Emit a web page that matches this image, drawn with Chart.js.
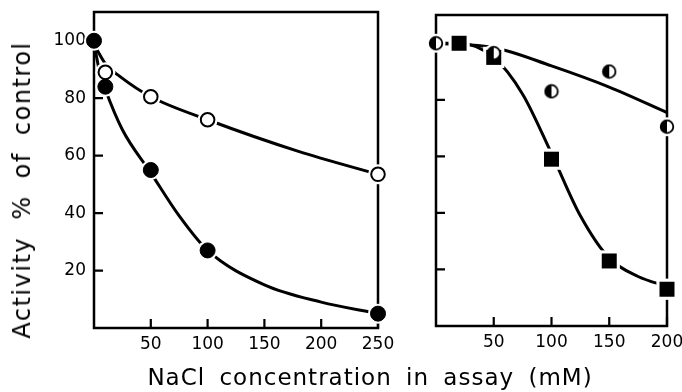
<!DOCTYPE html>
<html>
<head>
<meta charset="utf-8">
<script src="https://cdn.jsdelivr.net/npm/chart.js@4.4.1/dist/chart.umd.min.js"></script>
<style>
  body { margin: 0; background: #fff; }
  #wrap { position: relative; width: 682px; height: 392px; overflow: hidden; }
  #left { position: absolute; left: 0; top: 0; }
  #right { position: absolute; left: 390px; top: 0; }
  .ttl { position: absolute; font-family: 'DejaVu Sans', sans-serif; color: #000; white-space: pre; }
  #ytitle { left: 22px; top: 190px; font-size: 24px; letter-spacing: 1.5px; word-spacing: 8px;
            transform: translate(-50%, -50%) rotate(-90deg); }
  #xtitle { left: 370px; top: 377px; font-size: 23px; letter-spacing: 1px; word-spacing: 6px;
            transform: translate(-50%, -50%); }
</style>
</head>
<body>
<div id="wrap">
  <canvas id="left" width="410" height="392"></canvas>
  <canvas id="right" width="292" height="392"></canvas>
  <div class="ttl" id="ytitle">Activity % of control</div>
  <div class="ttl" id="xtitle">NaCl concentration in assay (mM)</div>
</div>
<script>
// ---- data ----
// left panel
var leftX = [0, 10, 50, 100, 250];
var closedY = [100, 84, 55, 27, 5];
var openX = [10, 50, 100, 250];
var openY = [89, 80.5, 72.5, 53.5];
// fitted curves (left)
var closedCurveX = [1, 5, 10, 25, 50, 75, 100, 150, 200, 250];
var closedCurveY = [97, 89, 83, 69, 54, 39, 27, 15, 9, 5];
var openCurveX = [1, 10, 23, 50, 100, 180, 250];
var openCurveY = [98, 92, 87.5, 80.5, 72.5, 61.5, 53.5];

// right panel
var halfX = [0, 50, 100, 150, 200];
var halfY = [100, 96.5, 83, 90, 70.5];
var squareX = [20, 50, 100, 150, 200];
var squareY = [100, 95, 59, 23, 13];
// fitted curves (right)
var halfCurveX = [0, 50, 100, 150, 200];
var halfCurveY = [100, 98.5, 92, 84.5, 75.5];
var squareCurveX = [0, 20, 50, 75, 100, 125, 150, 175, 200];
var squareCurveY = [100, 100, 95, 82, 61, 39, 24, 17.5, 14];

// axis ticks
var leftXTicks = [50, 100, 150, 200, 250];
var rightXTicks = [50, 100, 150, 200];
var yTicks = [20, 40, 60, 80, 100];

function pts(xs, ys) {
  return xs.map(function(x, i) { return { x: x, y: ys[i] }; });
}

// half-filled circle marker (left half black)
var half = document.createElement('canvas');
half.width = 16; half.height = 16;
(function() {
  var c = half.getContext('2d');
  c.fillStyle = '#fff';
  c.beginPath(); c.arc(8, 8, 6.3, 0, Math.PI * 2); c.fill();
  c.fillStyle = '#000';
  c.beginPath(); c.arc(8, 8, 6.3, Math.PI / 2, Math.PI * 1.5); c.closePath(); c.fill();
  c.strokeStyle = '#000'; c.lineWidth = 1.8;
  c.beginPath(); c.arc(8, 8, 6.3, 0, Math.PI * 2); c.stroke();
})();

// frame around plot + inward tick marks
var framePlugin = {
  id: 'frame',
  beforeDatasetsDraw: function(chart) {
    var a = chart.chartArea, ctx = chart.ctx;
    var xs = chart.scales.x, ys = chart.scales.y;
    ctx.save();
    ctx.strokeStyle = '#000';
    ctx.lineWidth = 2.5;
    ctx.strokeRect(a.left, a.top, a.right - a.left, a.bottom - a.top);
    ctx.lineWidth = 2.2;
    ctx.beginPath();
    chart.options.plugins.frame.xTicks.forEach(function(v) {
      var px = xs.getPixelForValue(v);
      ctx.moveTo(px, a.bottom); ctx.lineTo(px, a.bottom - 9);
    });
    yTicks.forEach(function(v) {
      var py = ys.getPixelForValue(v);
      ctx.moveTo(a.left, py); ctx.lineTo(a.left + 9, py);
    });
    ctx.stroke();
    ctx.restore();
  }
};

function curve(xs, ys) {
  return {
    type: 'line', data: pts(xs, ys), borderColor: '#000', borderWidth: 3,
    pointRadius: 0, tension: 0.4, cubicInterpolationMode: 'monotone',
    fill: false, clip: false, order: 3
  };
}
function halo(xs, ys, style, r) {
  return {
    type: 'scatter', data: pts(xs, ys), pointStyle: style, pointRadius: r,
    pointBackgroundColor: '#fff', pointBorderColor: '#fff', pointBorderWidth: 0,
    showLine: false, clip: false, order: 2
  };
}

function axes(xMax, xTicks, yWidth, xHeight, showY) {
  return {
    x: {
      type: 'linear', min: 0, max: xMax,
      afterBuildTicks: function(s) { s.ticks = xTicks.map(function(v) { return { value: v }; }); },
      afterFit: function(s) { s.height = xHeight; s.paddingLeft = 0; s.paddingRight = 0; },
      grid: { display: false, drawTicks: false },
      border: { display: false },
      ticks: { color: '#000', padding: 6, maxRotation: 0, autoSkip: false,
               font: { family: 'DejaVu Sans', size: 17 } }
    },
    y: {
      type: 'linear', min: 0, max: 110,
      afterBuildTicks: function(s) { s.ticks = yTicks.map(function(v) { return { value: v }; }); },
      afterFit: function(s) { s.width = yWidth; s.paddingTop = 0; s.paddingBottom = 0; },
      grid: { display: false, drawTicks: false },
      border: { display: false },
      ticks: { display: showY, color: '#000', padding: 8, autoSkip: false,
               font: { family: 'DejaVu Sans', size: 17 } }
    }
  };
}

var common = {
  responsive: false, animation: false,
  plugins: { legend: { display: false }, tooltip: { enabled: false } }
};

new Chart(document.getElementById('left'), {
  type: 'scatter',
  data: {
    datasets: [
      curve(closedCurveX, closedCurveY),
      curve(openCurveX, openCurveY),
      halo(leftX, closedY, 'circle', 10),
      halo(openX, openY, 'circle', 10),
      { type: 'scatter', data: pts(leftX, closedY), pointStyle: 'circle', pointRadius: 7.5,
        pointBackgroundColor: '#000', pointBorderColor: '#000', pointBorderWidth: 1, clip: false, order: 1 },
      { type: 'scatter', data: pts(openX, openY), pointStyle: 'circle', pointRadius: 6.8,
        pointBackgroundColor: '#fff', pointBorderColor: '#000', pointBorderWidth: 2, clip: false, order: 1 }
    ]
  },
  options: Object.assign({}, common, {
    layout: { padding: { top: 12, right: 32, left: 0, bottom: 0 } },
    plugins: Object.assign({}, common.plugins, { frame: { xTicks: leftXTicks } }),
    scales: axes(250, leftXTicks, 94, 64, true)
  }),
  plugins: [framePlugin]
});

new Chart(document.getElementById('right'), {
  type: 'scatter',
  data: {
    datasets: [
      curve(halfCurveX, halfCurveY),
      curve(squareCurveX, squareCurveY),
      halo(halfX, halfY, 'circle', 9.5),
      halo(squareX, squareY, 'rect', 15),
      { type: 'scatter', data: pts(halfX, halfY), pointStyle: half, pointRadius: 7,
        clip: false, order: 1 },
      { type: 'scatter', data: pts(squareX, squareY), pointStyle: 'rect', pointRadius: 10.6,
        pointBackgroundColor: '#000', pointBorderColor: '#000', pointBorderWidth: 0, clip: false, order: 1 }
    ]
  },
  options: Object.assign({}, common, {
    layout: { padding: { top: 12, right: 15, left: 0, bottom: 0 } },
    plugins: Object.assign({}, common.plugins, { frame: { xTicks: rightXTicks } }),
    scales: axes(200, rightXTicks, 46, 66, false)
  }),
  plugins: [framePlugin]
});
</script>
</body>
</html>
